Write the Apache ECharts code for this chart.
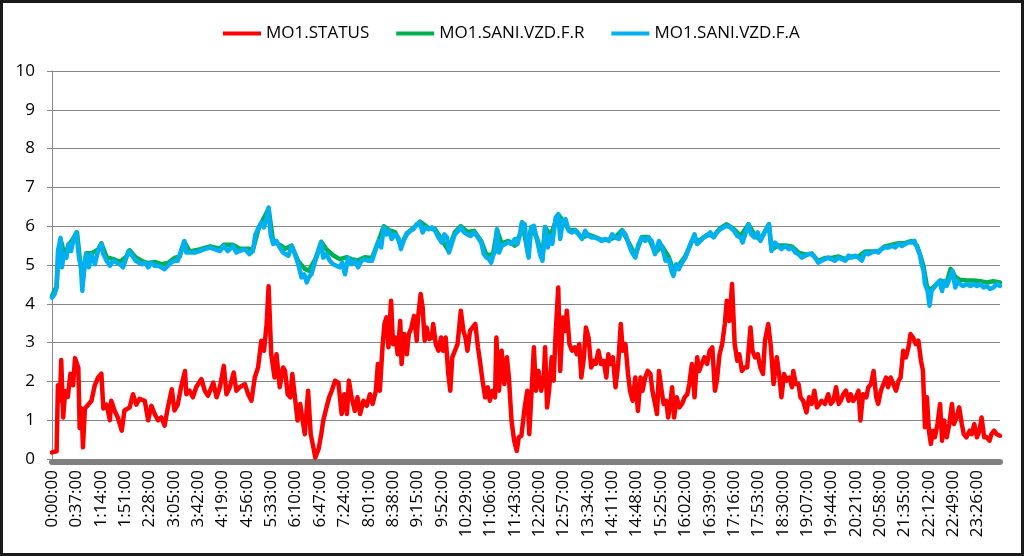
<!DOCTYPE html>
<html>
<head>
<meta charset="utf-8">
<script src="https://cdn.jsdelivr.net/npm/echarts@6/dist/echarts.min.js"></script>
<style>
html,body{margin:0;padding:0;background:#fff;}
#chart{width:1024px;height:556px;}
</style>
</head>
<body>
<div id="chart"></div>
<script>
// X tick labels (every 37 minutes)
const timeLabels = ['0:00:00','0:37:00','1:14:00','1:51:00','2:28:00','3:05:00','3:42:00','4:19:00','4:56:00','5:33:00',
  '6:10:00','6:47:00','7:24:00','8:01:00','8:38:00','9:15:00','9:52:00','10:29:00','11:06:00','11:43:00',
  '12:20:00','12:57:00','13:34:00','14:11:00','14:48:00','15:25:00','16:02:00','16:39:00','17:16:00','17:53:00',
  '18:30:00','19:07:00','19:44:00','20:21:00','20:58:00','21:35:00','22:12:00','22:49:00','23:26:00'];
const seriesNames = ['MO1.STATUS','MO1.SANI.VZD.F.R','MO1.SANI.VZD.F.A'];

// [minute of day, value]
const statusData = [
[0,0.17],[7,0.2],[9,1.9],[12,1.5],[14,2.55],[17,1.07],[20,1.75],[24,1.6],[28,2.2],[32,1.9],
[35,2.6],[40,2.35],[42,0.8],[45,1.3],[47,0.3],[50,1.3],[55,1.4],[60,1.5],[65,1.9],[70,2.1],
[75,2.2],[78,1.3],[83,1.4],[88,1.0],[90,1.5],[95,1.25],[100,1.07],[106,0.73],[110,1.25],[118,1.33],
[123,1.67],[128,1.4],[133,1.55],[141,1.5],[146,1.0],[151,1.37],[156,1.16],[161,1.0],[166,1.07],[171,0.86],
[176,1.33],[182,1.8],[186,1.25],[191,1.4],[196,1.85],[202,2.27],[204,1.67],[209,1.76],[214,1.59],[219,1.85],
[227,2.06],[232,1.76],[237,1.63],[245,1.97],[250,1.59],[255,1.85],[261,2.4],[265,1.67],[270,1.85],[276,2.23],
[280,1.76],[285,1.85],[293,1.93],[298,1.67],[303,1.5],[308,2.1],[313,2.36],[318,3.05],[322,2.79],[326,3.47],
[329,4.45],[333,2.7],[338,2.1],[341,2.7],[346,1.85],[351,2.36],[354,2.27],[358,1.67],[362,1.59],[365,2.19],
[369,1.59],[373,0.99],[377,1.42],[380,1.07],[384,0.64],[389,1.76],[393,0.64],[397,0.3],[400,0.04],[405,0.26],
[409,0.64],[412,0.99],[417,1.33],[421,1.59],[425,1.76],[430,2.02],[435,1.97],[440,1.16],[444,1.67],[448,1.16],
[451,2.02],[455,1.59],[460,1.24],[464,1.59],[468,1.16],[473,1.5],[478,1.37],[483,1.67],[487,1.42],[492,1.76],
[495,2.45],[498,1.76],[502,2.88],[505,3.48],[508,3.65],[511,2.88],[515,4.08],[518,2.96],[522,3.13],[525,2.7],
[529,3.56],[531,2.45],[535,3.22],[539,2.7],[542,3.22],[546,3.39],[550,3.69],[554,3.05],[556,3.65],[560,4.25],
[563,3.91],[566,3.05],[569,3.39],[573,3.09],[577,3.13],[579,3.48],[583,2.96],[587,2.79],[591,3.13],[594,2.79],
[598,3.13],[602,2.19],[605,1.76],[608,2.62],[612,2.79],[616,2.96],[621,3.82],[625,3.3],[628,3.13],[631,2.79],
[635,3.3],[639,3.39],[643,3.48],[647,2.88],[650,2.53],[654,2.02],[658,1.59],[662,1.85],[665,1.5],[669,1.76],
[673,1.59],[675,3.13],[679,1.76],[683,2.79],[687,1.93],[691,2.62],[694,2.1],[698,0.99],[702,0.47],[706,0.21],
[709,0.56],[713,0.6],[718,1.33],[722,1.76],[725,0.64],[728,1.59],[732,2.88],[735,1.76],[739,2.27],[743,1.76],
[747,2.1],[749,2.88],[752,1.33],[755,1.76],[759,2.62],[762,2.02],[765,3.22],[769,4.42],[772,2.27],[776,3.65],
[779,3.3],[782,3.82],[786,2.96],[790,2.79],[794,2.88],[797,2.7],[801,2.96],[804,2.1],[808,2.62],[811,3.39],
[815,3.13],[819,2.36],[823,2.53],[826,2.45],[830,2.79],[834,2.45],[838,2.53],[842,2.1],[845,2.7],[848,2.45],
[852,2.62],[856,1.85],[860,2.45],[864,3.48],[867,2.79],[871,2.96],[875,2.19],[878,1.76],[882,1.5],[886,2.1],
[890,1.24],[894,2.1],[897,1.76],[901,2.1],[905,2.27],[909,2.19],[912,1.76],[916,1.42],[919,1.16],[922,2.27],
[926,1.76],[929,1.42],[933,1.5],[936,1.07],[939,1.42],[942,1.85],[945,1.07],[949,1.59],[953,1.33],[957,1.42],
[961,1.59],[965,1.67],[968,1.93],[972,2.45],[976,1.59],[980,2.62],[983,2.27],[987,2.45],[991,2.62],[995,2.45],
[999,2.79],[1003,2.88],[1007,1.76],[1010,2.02],[1014,2.7],[1018,2.96],[1022,3.48],[1025,4.08],[1029,3.56],[1033,4.51],
[1037,2.96],[1041,2.53],[1044,2.7],[1048,2.27],[1052,2.36],[1056,2.36],[1061,3.39],[1064,2.79],[1068,2.62],[1072,2.7],
[1076,2.36],[1080,2.19],[1083,3.05],[1088,3.48],[1092,2.88],[1096,1.93],[1101,2.62],[1105,2.1],[1108,1.59],[1112,2.19],
[1116,2.02],[1120,2.1],[1124,1.85],[1126,2.27],[1130,1.93],[1134,1.93],[1137,1.59],[1141,1.5],[1146,1.2],[1150,1.59],
[1154,1.42],[1158,1.76],[1162,1.33],[1166,1.42],[1169,1.5],[1174,1.42],[1179,1.67],[1183,1.42],[1187,1.5],[1191,1.85],
[1195,1.42],[1198,1.5],[1202,1.67],[1206,1.76],[1210,1.5],[1213,1.67],[1217,1.5],[1221,1.59],[1225,1.76],[1228,0.99],
[1232,1.67],[1237,1.59],[1240,1.85],[1244,1.93],[1248,2.27],[1252,1.59],[1255,1.42],[1259,1.76],[1263,1.93],[1267,2.1],
[1270,1.85],[1274,2.1],[1278,1.93],[1282,1.76],[1286,2.02],[1289,2.1],[1293,2.79],[1297,2.62],[1301,2.88],[1304,3.22],
[1308,3.13],[1312,2.96],[1316,3.05],[1320,2.53],[1323,2.27],[1326,0.82],[1329,1.59],[1332,0.73],[1335,0.39],[1338,0.73],
[1341,0.56],[1345,0.9],[1349,1.42],[1352,0.47],[1355,0.99],[1359,0.56],[1363,0.9],[1367,1.42],[1370,0.9],[1374,1.07],
[1378,1.33],[1382,0.9],[1385,0.64],[1389,0.56],[1394,0.73],[1397,0.64],[1401,0.9],[1405,0.56],[1409,0.73],[1412,1.07],
[1416,0.56],[1420,0.56],[1424,0.47],[1427,0.64],[1431,0.73],[1435,0.64],[1440,0.6]
];

const saniRData = [
[0,4.2],[7,4.45],[10,5.35],[14,5.6],[19,5.25],[25,5.5],[33,5.7],[38,5.84],[42,5.2],[47,4.6],
[52,5.3],[60,5.3],[70,5.4],[75,5.56],[83,5.2],[93,5.15],[103,5.08],[113,5.22],[118,5.38],[127,5.2],
[137,5.1],[146,5.05],[156,5.08],[166,5.02],[176,5.05],[186,5.18],[194,5.22],[201,5.6],[209,5.35],[224,5.4],
[240,5.48],[255,5.42],[261,5.52],[275,5.52],[285,5.42],[298,5.42],[305,5.38],[314,5.95],[329,6.45],[336,5.6],
[348,5.5],[354,5.42],[364,5.5],[374,5.1],[384,4.9],[390,4.85],[400,5.15],[409,5.6],[417,5.4],[427,5.25],
[437,5.15],[448,5.2],[455,5.15],[465,5.12],[475,5.2],[486,5.18],[496,5.62],[504,6.0],[512,5.9],[521,5.85],
[530,5.5],[539,5.82],[549,5.95],[559,6.12],[572,5.95],[582,5.92],[592,5.65],[602,5.38],[612,5.85],[621,6.0],
[631,5.85],[641,5.88],[652,5.62],[660,5.25],[670,5.28],[676,5.9],[683,5.55],[693,5.62],[703,5.5],[711,5.8],
[714,6.1],[722,5.4],[728,5.98],[737,5.68],[745,5.2],[749,5.98],[757,5.75],[769,6.3],[776,6.15],[785,5.9],
[795,5.9],[805,5.7],[815,5.78],[825,5.72],[835,5.65],[846,5.65],[856,5.72],[866,5.9],[876,5.58],[886,5.25],
[896,5.72],[906,5.72],[916,5.32],[927,5.48],[937,5.2],[944,4.85],[952,5.0],[962,5.22],[972,5.62],[985,5.65],
[995,5.78],[1005,5.75],[1015,5.95],[1025,6.05],[1036,5.92],[1046,5.75],[1058,6.05],[1068,5.75],[1076,5.65],[1089,6.05],
[1093,5.4],[1103,5.5],[1114,5.5],[1124,5.48],[1134,5.32],[1144,5.27],[1154,5.3],[1164,5.1],[1174,5.18],[1184,5.18],
[1195,5.22],[1205,5.15],[1215,5.22],[1225,5.22],[1235,5.35],[1245,5.35],[1255,5.35],[1265,5.48],[1276,5.52],[1286,5.56],
[1296,5.57],[1306,5.62],[1314,5.5],[1319,5.25],[1324,4.95],[1329,4.45],[1334,4.35],[1340,4.45],[1349,4.6],[1359,4.55],
[1365,4.9],[1372,4.7],[1379,4.62],[1390,4.6],[1400,4.6],[1410,4.58],[1420,4.55],[1430,4.58],[1440,4.55]
];

const saniAData = [
[0,4.16],[4,4.25],[7,4.42],[9,5.36],[13,5.7],[15,4.94],[18,5.28],[22,5.19],[25,5.54],[29,5.36],
[33,5.7],[37,5.84],[41,5.19],[44,4.94],[46,4.33],[49,5.02],[52,5.28],[56,4.94],[60,5.28],[65,5.02],
[70,5.36],[75,5.54],[78,5.28],[83,5.11],[88,4.98],[93,5.11],[98,5.06],[103,5.02],[108,4.94],[113,5.19],
[116,5.36],[122,5.24],[127,5.11],[132,5.06],[137,5.02],[142,5.06],[146,4.94],[151,5.06],[156,4.98],[161,4.98],
[166,4.94],[171,4.89],[176,4.98],[181,5.06],[186,5.11],[191,5.11],[196,5.36],[201,5.62],[204,5.32],[209,5.32],
[217,5.32],[224,5.36],[232,5.41],[240,5.45],[247,5.41],[255,5.36],[261,5.49],[267,5.36],[275,5.49],[280,5.32],
[285,5.36],[293,5.41],[300,5.28],[305,5.36],[309,5.79],[314,5.97],[318,6.09],[322,5.97],[326,6.22],[329,6.48],
[332,5.79],[336,5.54],[341,5.62],[346,5.45],[351,5.32],[354,5.36],[359,5.24],[364,5.49],[369,5.28],[374,5.02],
[379,4.68],[383,4.76],[387,4.55],[390,4.68],[394,4.76],[400,5.11],[405,5.36],[409,5.58],[412,5.19],[417,5.28],
[422,5.11],[427,5.02],[432,4.98],[437,4.94],[441,5.06],[445,4.76],[450,5.19],[455,5.02],[460,5.11],[465,4.94],
[470,5.11],[475,5.15],[480,5.11],[486,5.11],[491,5.36],[496,5.62],[500,5.45],[504,5.97],[508,5.79],[512,5.88],
[516,5.67],[521,5.79],[526,5.71],[530,5.41],[534,5.62],[539,5.79],[544,5.88],[549,5.92],[554,6.05],[559,6.09],
[563,5.84],[567,5.97],[572,5.92],[577,5.97],[582,5.88],[587,5.71],[592,5.58],[596,5.79],[600,5.71],[603,5.32],
[607,5.54],[612,5.79],[617,5.88],[621,5.97],[626,5.84],[631,5.79],[636,5.75],[641,5.84],[647,5.71],[652,5.58],
[656,5.28],[660,5.19],[664,5.15],[667,5.06],[670,5.24],[673,5.36],[676,5.92],[679,5.32],[683,5.49],[688,5.54],
[693,5.58],[698,5.54],[703,5.67],[707,5.54],[711,5.79],[714,6.09],[718,6.05],[722,5.36],[724,5.19],[728,5.97],
[732,6.01],[737,5.62],[742,5.24],[745,5.11],[749,5.97],[753,5.45],[757,5.75],[760,5.54],[765,6.22],[769,6.31],
[772,5.67],[776,6.14],[780,6.18],[785,5.88],[790,5.84],[795,5.88],[800,5.79],[805,5.67],[810,5.88],[815,5.75],
[820,5.71],[825,5.71],[830,5.67],[835,5.62],[840,5.67],[846,5.62],[851,5.79],[856,5.71],[861,5.67],[866,5.88],
[871,5.79],[876,5.54],[881,5.32],[886,5.19],[891,5.54],[896,5.71],[901,5.62],[906,5.71],[911,5.62],[916,5.28],
[922,5.62],[927,5.45],[932,5.11],[937,5.15],[941,4.85],[944,4.72],[948,5.02],[952,4.89],[957,5.06],[962,5.19],
[967,5.41],[972,5.62],[976,5.79],[980,5.54],[985,5.62],[990,5.71],[995,5.75],[1000,5.84],[1005,5.71],[1010,5.84],
[1015,5.92],[1020,5.97],[1025,6.01],[1030,5.97],[1036,5.88],[1041,5.75],[1046,5.71],[1049,5.58],[1053,5.79],[1058,6.05],
[1062,5.79],[1067,5.71],[1072,5.84],[1076,5.62],[1081,5.79],[1086,5.97],[1089,6.05],[1093,5.36],[1098,5.58],[1103,5.49],
[1108,5.41],[1114,5.49],[1119,5.41],[1124,5.45],[1129,5.32],[1134,5.28],[1139,5.19],[1144,5.24],[1149,5.28],[1154,5.28],
[1159,5.19],[1164,5.06],[1169,5.11],[1174,5.15],[1179,5.19],[1184,5.15],[1189,5.11],[1195,5.19],[1200,5.15],[1205,5.11],
[1210,5.24],[1215,5.19],[1220,5.24],[1225,5.19],[1230,5.11],[1235,5.32],[1240,5.28],[1245,5.32],[1250,5.36],[1255,5.32],
[1260,5.41],[1265,5.45],[1270,5.45],[1276,5.49],[1281,5.45],[1286,5.54],[1291,5.49],[1296,5.54],[1301,5.58],[1306,5.58],
[1310,5.62],[1314,5.45],[1318,5.28],[1321,5.02],[1324,4.85],[1326,4.51],[1330,4.33],[1333,3.95],[1336,4.33],[1340,4.42],
[1344,4.51],[1348,4.59],[1352,4.33],[1355,4.59],[1359,4.46],[1364,4.68],[1368,4.85],[1372,4.42],[1375,4.59],[1379,4.51],
[1384,4.46],[1390,4.51],[1395,4.46],[1400,4.51],[1405,4.46],[1410,4.51],[1415,4.42],[1420,4.46],[1425,4.38],[1430,4.42],
[1435,4.51],[1440,4.46]
];

const FONT = 'Open Sans';
const chart = echarts.init(document.getElementById('chart'), null, {renderer: 'canvas'});

function lineSeries(name, data, color) {
  return {
    name: name, type: 'line', data: data, showSymbol: false, symbol: 'none',
    clip: false, animation: false,
    lineStyle: {color: color, width: 4.5, cap: 'round', join: 'round'},
    itemStyle: {color: color}
  };
}

chart.setOption({
  animation: false,
  backgroundColor: '#ffffff',
  textStyle: {fontFamily: FONT},
  legend: {
    data: seriesNames,
    left: 218, top: 20,
    icon: 'rect', itemWidth: 38, itemHeight: 4, itemGap: 27,
    textStyle: {fontFamily: FONT, fontSize: 17, color: '#000'}
  },
  grid: {left: 52, right: 24, top: 71, bottom: 97, containLabel: false},
  xAxis: {
    type: 'value', min: 0, max: 1440, interval: 37,
    offset: 3,
    axisLine: {show: true, onZero: false, lineStyle: {color: '#808080', width: 6}},
    axisTick: {show: false},
    splitLine: {show: false},
    axisLabel: {
      rotate: 90, margin: 8, fontFamily: FONT, fontSize: 17, color: '#000',
      showMaxLabel: false,
      formatter: function (v) {
        if (v % 37 !== 0) return '';
        return timeLabels[v / 37] || '';
      }
    }
  },
  yAxis: {
    type: 'value', min: 0, max: 10, interval: 1,
    axisLine: {show: true, onZero: false, lineStyle: {color: '#868686', width: 1}},
    axisTick: {show: true, length: 5, lineStyle: {color: '#868686'}},
    splitLine: {show: true, lineStyle: {color: '#868686', width: 1}},
    axisLabel: {margin: 17, fontFamily: FONT, fontSize: 17, color: '#000'}
  },
  series: [
    lineSeries(seriesNames[0], statusData, '#FF0000'),
    lineSeries(seriesNames[1], saniRData, '#00B050'),
    lineSeries(seriesNames[2], saniAData, '#00B0F0')
  ],
  graphic: [
    {type: 'rect', shape: {x: 1.5, y: 1.5, width: 1021, height: 553},
     style: {fill: 'none', stroke: '#1a1a1a', lineWidth: 3}, silent: true, z: 100}
  ]
});
</script>
</body>
</html>
